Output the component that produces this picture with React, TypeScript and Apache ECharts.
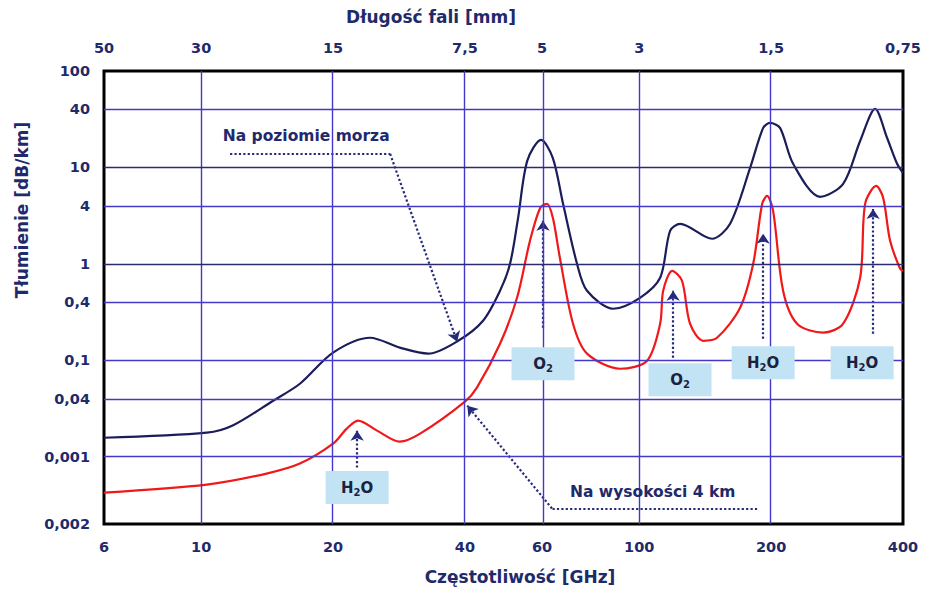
import React, { useEffect, useRef } from 'react';
import * as echarts from 'echarts';

// ---- axis ticks and labels ----
const freqTicks = [6, 10, 20, 40, 60, 100, 200, 400];
const freqLabels = ['6', '10', '20', '40', '60', '100', '200', '400'];
const waveLabels = ['50', '30', '15', '7,5', '5', '3', '1,5', '0,75'];
const attTicks = [100, 40, 10, 4, 1, 0.4, 0.1, 0.04, 0.01, 0.002];
const attLabels = ['100', '40', '10', '4', '1', '0,4', '0,1', '0,04', '0,001', '0,002'];
const freqGrid = [10, 20, 40, 60, 100, 200];
const attGridMajor = [10, 1];
const attGridMinor = [40, 4, 0.4, 0.1, 0.04, 0.01];

// ---- sea level curve (GHz, dB/km) ----
const seaFreq = [6, 10.3, 11.8, 14.6, 16.8, 20.0, 24.3, 28.4, 33.0, 38.6, 44.0, 48.1, 50.7, 52.9, 55.5, 59.7, 63.5, 67.0, 72.1, 76.0, 87.2, 100.4, 111.6, 117.6, 124.0, 146.6, 161.2, 179.1, 191.8, 198.9, 209.6, 224.5, 258.7, 292.0, 319.3, 345.5, 368.0, 387.8, 400];
const seaAtt = [0.0157, 0.0177, 0.021, 0.038, 0.057, 0.12, 0.171, 0.135, 0.117, 0.159, 0.257, 0.525, 1.0, 3.0, 11.7, 19.3, 12.5, 4.19, 1.0, 0.525, 0.342, 0.444, 0.716, 2.2, 2.6, 1.82, 2.6, 9.88, 25.7, 28.9, 25.7, 10.9, 4.95, 6.75, 18.8, 40.4, 20.2, 10.9, 8.77];

// ---- 4 km altitude curve ----
const altFreq = [6, 10.3, 14.1, 16.8, 20.0, 21.5, 22.8, 25.2, 28.4, 31.6, 40.0, 42.6, 48.1, 52.6, 56.3, 59.4, 61.6, 63.5, 65.9, 70.6, 76.0, 90.4, 104.2, 111.6, 113.4, 118.9, 125.2, 130.6, 139.9, 150.5, 169.9, 182.0, 190.8, 195.8, 202.1, 213.0, 229.2, 262.9, 292.0, 319.3, 327.8, 347.4, 360.4, 373.8, 394.0, 400];
const altAtt = [0.00424, 0.00513, 0.00667, 0.00846, 0.0136, 0.0195, 0.0236, 0.0186, 0.0143, 0.0173, 0.0372, 0.0519, 0.148, 0.444, 1.73, 3.8, 4.19, 3.0, 1.15, 0.239, 0.117, 0.0816, 0.0989, 0.239, 0.525, 0.846, 0.667, 0.239, 0.159, 0.171, 0.35, 1.0, 4.19, 5.07, 3.54, 0.525, 0.239, 0.193, 0.239, 0.716, 4.19, 6.43, 4.83, 1.73, 0.888, 0.846];

// ---- annotations (data units) ----
const seaNoteText = 'Na poziomie morza';
const seaNoteAnchor = [11.2, 21.2];
const seaNoteLine = [[11.64, 13.8], [27.0, 13.8], [38.4, 0.1555]];
const altNoteText = 'Na wysokości 4 km';
const altNoteAnchor = [69.5, 0.00434];
const altNoteLine = [[185.8, 0.0029], [63.2, 0.0029], [40.5, 0.0338]];
const gasArrowFreq = [22.7, 60.3, 119.5, 191.8, 341.8];
const gasArrowFrom = [0.00769, 0.217, 0.106, 0.167, 0.188];
const gasArrowTo = [0.0186, 2.79, 0.525, 2.05, 3.71];
const gasNames = ['H2O', 'O2', 'O2', 'H2O', 'H2O'];
const gasBoxFreq = [22.7, 60.3, 123.9, 191.8, 322.7];
const gasBoxAtt = [0.00477, 0.092, 0.0628, 0.094, 0.094];

const L = Math.log10;
const FONT = '"DejaVu Sans", Verdana, sans-serif';
const NAVY = '#1f2a6b';
const GRID_BLUE = '#4338c8';
const GRID_DARK = '#2b2b6e';
const ARROW = '#262a7a';

function pickLabel(ticks: number[], labels: string[]) {
  return (v: number) => {
    let best = 0;
    let d = Infinity;
    ticks.forEach((t, i) => {
      const dd = Math.abs(L(t) - v);
      if (dd < d) { d = dd; best = i; }
    });
    return labels[best];
  };
}

const lp = (p: number[]) => [L(p[0]), L(p[1])];

export default function App() {
  const ref = useRef<HTMLDivElement>(null);
  useEffect(() => {
    if (!ref.current) return;
    const chart = echarts.init(ref.current, null, { renderer: 'svg' });
    const xLog = freqTicks.map(L);
    const yLog = attTicks.map(L);
    const axisLabelStyle = { color: NAVY, fontWeight: 'bold' as const, fontSize: 14.5, fontFamily: FONT };

    const gridLines: any[] = [];
    freqGrid.forEach((f) => gridLines.push({ xAxis: L(f), lineStyle: { color: GRID_BLUE } }));
    attGridMinor.forEach((a) => gridLines.push({ yAxis: L(a), lineStyle: { color: GRID_BLUE } }));
    attGridMajor.forEach((a) => gridLines.push({ yAxis: L(a), lineStyle: { color: GRID_DARK } }));

    const subRich = {
      t: { fontSize: 15, fontWeight: 'bold', color: '#1b2140', fontFamily: FONT, lineHeight: 20 },
      s: { fontSize: 10, fontWeight: 'bold', color: '#1b2140', fontFamily: FONT, lineHeight: 10, verticalAlign: 'bottom' },
    };

    const dotted = { color: ARROW, width: 2.2, type: 'dotted', opacity: 1 };

    const option: any = {
      animation: false,
      backgroundColor: '#ffffff',
      grid: { left: 104, top: 71, width: 799, height: 453, show: true, borderColor: '#000', borderWidth: 3, backgroundColor: 'transparent' },
      xAxis: [
        {
          type: 'value', min: L(6), max: L(400), position: 'bottom',
          axisLine: { show: false }, axisTick: { show: false }, splitLine: { show: false },
          axisLabel: { ...axisLabelStyle, margin: 15, customValues: xLog, formatter: pickLabel(freqTicks, freqLabels) },
        },
        {
          type: 'value', min: L(6), max: L(400), position: 'top',
          axisLine: { show: false }, axisTick: { show: false }, splitLine: { show: false },
          axisLabel: { ...axisLabelStyle, margin: 16, customValues: xLog, formatter: pickLabel(freqTicks, waveLabels) },
        },
      ],
      yAxis: {
        type: 'value', min: L(0.002), max: L(100),
        axisLine: { show: false }, axisTick: { show: false }, splitLine: { show: false },
        axisLabel: { ...axisLabelStyle, margin: 14, customValues: yLog, formatter: pickLabel(attTicks, attLabels) },
      },
      graphic: [
        { type: 'text', x: 431, y: 17, style: { text: 'Długość fali [mm]', fill: NAVY, font: `bold 17px ${FONT}`, align: 'center', verticalAlign: 'middle' } },
        { type: 'text', x: 520, y: 577, style: { text: 'Częstotliwość [GHz]', fill: NAVY, font: `bold 17px ${FONT}`, align: 'center', verticalAlign: 'middle' } },
        { type: 'text', x: 22, y: 210, rotation: Math.PI / 2, style: { text: 'Tłumienie [dB/km]', fill: NAVY, font: `bold 17px ${FONT}`, align: 'center', verticalAlign: 'middle' } },
      ],
      series: [
        {
          type: 'line', data: [], z: 1, silent: true,
          markLine: { silent: true, symbol: ['none', 'none'], label: { show: false }, lineStyle: { type: 'solid', width: 1.4 }, data: gridLines },
        },
        {
          name: 'Na poziomie morza', type: 'line', smooth: 0.3, showSymbol: false, z: 3,
          lineStyle: { color: '#1a1d58', width: 2.2 },
          data: seaFreq.map((f, i) => [L(f), L(seaAtt[i])]),
        },
        {
          name: 'Na wysokości 4 km', type: 'line', smooth: 0.3, showSymbol: false, z: 3,
          lineStyle: { color: '#f01818', width: 2.2 },
          data: altFreq.map((f, i) => [L(f), L(altAtt[i])]),
        },
        {
          type: 'lines', coordinateSystem: 'cartesian2d', z: 4, silent: true,
          symbol: ['none', 'none'],
          lineStyle: dotted,
          data: [
            { coords: [lp(seaNoteLine[0]), lp(seaNoteLine[1])] },
            { coords: [lp(altNoteLine[0]), lp(altNoteLine[1])] },
          ],
        },
        {
          type: 'lines', coordinateSystem: 'cartesian2d', z: 4, silent: true,
          symbol: ['none', 'arrow'], symbolSize: 10,
          lineStyle: dotted,
          data: [
            { coords: [lp(seaNoteLine[1]), lp(seaNoteLine[2])] },
            { coords: [lp(altNoteLine[1]), lp(altNoteLine[2])] },
            ...gasArrowFreq.map((f, i) => ({ coords: [[L(f), L(gasArrowFrom[i])], [L(f), L(gasArrowTo[i])]] })),
          ],
        },
        {
          type: 'scatter', z: 5, silent: true, symbol: 'rect',
          itemStyle: { color: '#c2e3f4', opacity: 1 },
          data: gasBoxFreq.map((f, i) => ({ value: [L(f), L(gasBoxAtt[i])], name: gasNames[i], symbolSize: [63, 33] })),
          label: {
            show: true, position: 'inside',
            formatter: (p: any) => (p.name === 'H2O' ? '{t|H}{s|2}{t|O}' : '{t|O}{s|2}'),
            rich: subRich,
          },
        },
        {
          type: 'scatter', z: 5, silent: true, symbolSize: 0,
          itemStyle: { opacity: 1, color: NAVY },
          data: [
            { value: lp(seaNoteAnchor), name: seaNoteText },
            { value: lp(altNoteAnchor), name: altNoteText },
          ],
          label: {
            show: true, position: 'inside', align: 'left', verticalAlign: 'middle',
            formatter: (p: any) => p.name,
            color: NAVY, opacity: 1, fontWeight: 'bold', fontSize: 15.5, fontFamily: FONT,
          },
        },
      ],
    };
    chart.setOption(option);
    return () => chart.dispose();
  }, []);
  return <div ref={ref} style={{ position: 'fixed', left: 0, top: 0, width: 928, height: 593, background: '#fff' }} />;
}
